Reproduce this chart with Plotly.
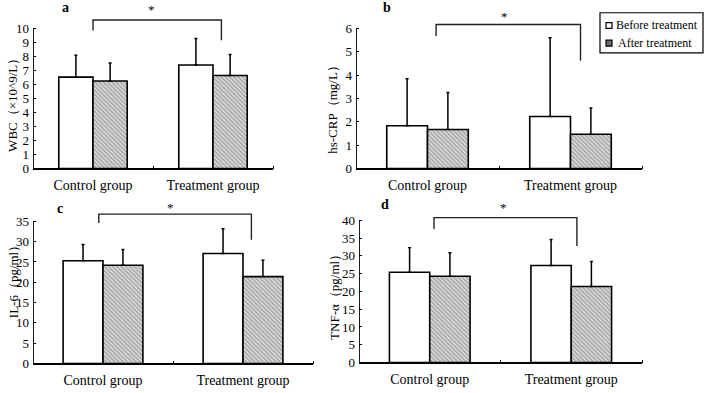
import plotly.graph_objects as go

W, H = 704, 393
FONT = "Liberation Serif"

categories = ["Control group", "Treatment group"]
series_names = ["Before treatment", "After treatment"]

# Panel a: WBC
wbc_before = [6.52, 7.39]
wbc_after = [6.25, 6.64]
wbc_before_sd = [1.57, 1.89]
wbc_after_sd = [1.28, 1.49]

# Panel b: hs-CRP
crp_before = [1.83, 2.23]
crp_after = [1.67, 1.47]
crp_before_sd = [2.01, 3.37]
crp_after_sd = [1.59, 1.12]

# Panel c: IL-6
il6_before = [25.3, 27.1]
il6_after = [24.2, 21.4]
il6_before_sd = [4.0, 6.1]
il6_after_sd = [3.9, 4.0]

# Panel d: TNF-alpha
tnf_before = [25.4, 27.3]
tnf_after = [24.3, 21.4]
tnf_before_sd = [6.9, 7.3]
tnf_after_sd = [6.6, 7.0]

y_titles = ["WBC（×10^9/L）", "hs-CRP（mg/L）", "IL-6（pg/ml）", "TNF-α（pg/ml）"]
panel_labels = ["a", "b", "c", "d"]
y_max_ticks = [10, 6, 35, 40]
y_dticks = [1, 1, 5, 5]
# significance brackets: (left leg bottom, bar height, right leg bottom), x positions
bracket_y = [(9.86, 10.6, 9.16), (5.68, 6.17, 4.62), (34.6, 36.8, 30.5), (37.6, 40.8, 32.8)]
bracket_x = [(0.0, 1.07), (0.06, 1.07), (-0.03, 1.06), (0.03, 1.04)]

data = [
    (wbc_before, wbc_after, wbc_before_sd, wbc_after_sd),
    (crp_before, crp_after, crp_before_sd, crp_after_sd),
    (il6_before, il6_after, il6_before_sd, il6_after_sd),
    (tnf_before, tnf_after, tnf_before_sd, tnf_after_sd),
]

# layout in pixels: x0, x1, zero_px, top_tick_px, domain_top_px
geom = [
    (33, 273, 172, 29, 12),
    (356, 642, 172, 29, 12),
    (33, 313, 371, 226, 208),
    (359, 642, 370, 225, 208),
]
ytitle_pos = [(13, 104), (333, 109), (13, 285), (335, 300)]
label_pos = [(65, 8), (387, 8), (60, 213), (385, 209)]
star_pos = [(151, 10), (504, 17), (170, 212), (503, 212)]

fig = go.Figure()
shapes = []
annotations = []
xcat = list(range(len(categories)))

for i in range(4):
    before, after, bsd, asd = data[i]
    x0, x1, zero_px, top_px, dtop = geom[i]
    n = i + 1
    xa = "x" if n == 1 else f"x{n}"
    ya = "y" if n == 1 else f"y{n}"
    ymax = y_max_ticks[i] * (zero_px - dtop) / (zero_px - top_px)

    fig.add_trace(go.Bar(
        x=xcat, y=before, name=series_names[0], xaxis=xa, yaxis=ya,
        marker=dict(color="white", line=dict(color="black", width=1.6)),
        error_y=dict(type="data", array=bsd, arrayminus=[0] * len(bsd), symmetric=False,
                     color="black", thickness=1.5, width=1.5),
        showlegend=False,
    ))
    fig.add_trace(go.Bar(
        x=xcat, y=after, name=series_names[1], xaxis=xa, yaxis=ya,
        marker=dict(color="white", line=dict(color="black", width=1.6),
                    pattern=dict(shape="\\", size=3, solidity=0.6, fgcolor="#6a6a6a", bgcolor="#e6e6e6")),
        error_y=dict(type="data", array=asd, arrayminus=[0] * len(asd), symmetric=False,
                     color="black", thickness=1.5, width=1.5),
        showlegend=False,
    ))
    # bracket
    bl, bt, br = bracket_y[i]
    bxl, bxr = bracket_x[i]
    fig.add_trace(go.Scatter(
        x=[bxl, bxl, bxr, bxr], y=[bl, bt, bt, br], xaxis=xa, yaxis=ya,
        mode="lines", line=dict(color="#222222", width=1.4), showlegend=False, hoverinfo="skip",
    ))

    xkey = "xaxis" if n == 1 else f"xaxis{n}"
    ykey = "yaxis" if n == 1 else f"yaxis{n}"
    fig.layout[xkey] = dict(
        domain=[x0 / W, x1 / W], anchor=ya, range=[-0.5, 1.5],
        tickmode="array", tickvals=xcat, ticktext=categories, ticks="",
        showline=True, linecolor="black", linewidth=1.6, showgrid=False, zeroline=False,
        tickfont=dict(family=FONT, size=14, color="black"), ticklabelstandoff=3,
        minor=dict(tickmode="array", tickvals=[0.5, 1.5], ticks="inside", ticklen=3,
                   tickcolor="black", tickwidth=1.2),
    )
    yticks = list(range(0, y_max_ticks[i] + 1, y_dticks[i]))
    fig.layout[ykey] = dict(
        domain=[1 - zero_px / H, 1 - dtop / H], anchor=xa, range=[0, ymax],
        tickmode="array", tickvals=yticks,
        showline=False, showgrid=False, zeroline=False,
        ticks="inside", ticklen=3, tickcolor="black", tickwidth=1.2,
        tickfont=dict(family=FONT, size=13, color="black"), ticklabelstandoff=3,
    )
    # the visible y-axis line up to the highest tick
    shapes.append(dict(type="line", xref=xa, yref=ya, x0=-0.5, x1=-0.5, y0=0, y1=y_max_ticks[i],
                       line=dict(color="black", width=1.8)))

    tx, ty = ytitle_pos[i]
    annotations.append(dict(text=y_titles[i], xref="paper", yref="paper", x=tx / W, y=1 - ty / H,
                            textangle=-90, showarrow=False, xanchor="center", yanchor="middle",
                            font=dict(family=FONT, size=13, color="black")))
    lx, ly = label_pos[i]
    annotations.append(dict(text="<b>" + panel_labels[i] + "</b>", xref="paper", yref="paper",
                            x=lx / W, y=1 - ly / H, showarrow=False, xanchor="center", yanchor="middle",
                            font=dict(family=FONT, size=14, color="black")))
    sx, sy = star_pos[i]
    annotations.append(dict(text="*", xref="paper", yref="paper", x=sx / W, y=1 - sy / H,
                            showarrow=False, xanchor="center", yanchor="middle",
                            font=dict(family=FONT, size=13, color="black")))

# manual legend
shapes.append(dict(type="rect", xref="paper", yref="paper", x0=600 / W, x1=703 / W,
                   y0=1 - 54 / H, y1=1 - 13 / H, line=dict(color="black", width=1.2), fillcolor="white"))
legend_fill = ["white", "#6e6e6e"]
legend_rows = [26, 44]
for k in range(2):
    cy = legend_rows[k]
    shapes.append(dict(type="rect", xref="paper", yref="paper", x0=606 / W, x1=612 / W,
                       y0=1 - (cy + 3) / H, y1=1 - (cy - 3) / H,
                       line=dict(color="black", width=1.2), fillcolor=legend_fill[k]))
    annotations.append(dict(text=series_names[k], xref="paper", yref="paper",
                            x=(614 if k == 0 else 616) / W, y=1 - cy / H,
                            showarrow=False, xanchor="left", yanchor="middle",
                            font=dict(family=FONT, size=12, color="black")))

fig.update_layout(
    width=W, height=H, margin=dict(l=0, r=0, t=0, b=0),
    paper_bgcolor="white", plot_bgcolor="white",
    barmode="group", bargap=0.43, bargroupgap=0,
    shapes=shapes, annotations=annotations, showlegend=False,
    font=dict(family=FONT, color="black"),
)

fig.write_html("out.html", config={"displayModeBar": False},
               post_script="document.body.style.margin='0';document.body.style.overflow='hidden';")
